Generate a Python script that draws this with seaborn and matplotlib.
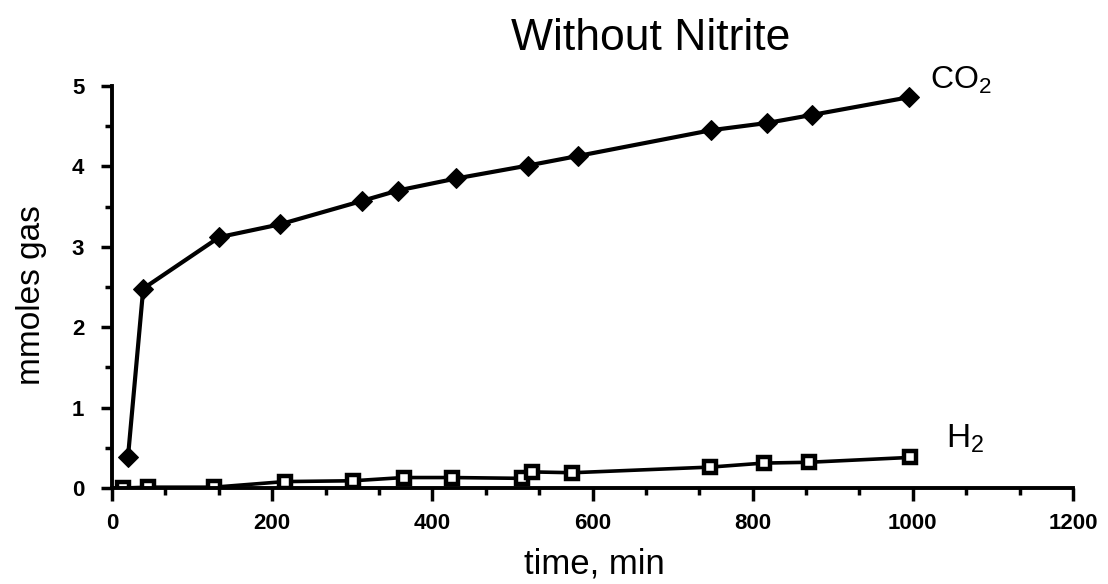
import matplotlib
matplotlib.use('Agg')
import matplotlib.pyplot as plt
import seaborn as sns
from matplotlib.ticker import MultipleLocator

# Dados (tempo em min, mmoles de gás)
co2_tempo = [20, 39, 134, 210, 312, 357, 430, 519, 582, 748, 818, 874, 995]
co2_valor = [0.39, 2.48, 3.12, 3.28, 3.57, 3.70, 3.85, 4.01, 4.13, 4.45, 4.54, 4.64, 4.86]

h2_tempo = [14, 45, 127, 216, 301, 364, 425, 512, 525, 575, 747, 814, 870, 996]
h2_valor = [0.00, 0.01, 0.01, 0.08, 0.09, 0.13, 0.13, 0.12, 0.20, 0.19, 0.26, 0.31, 0.32, 0.38]

x_ticks = [0, 200, 400, 600, 800, 1000, 1200]
y_ticks = [0, 1, 2, 3, 4, 5]

sns.set_style('ticks')
plt.rcParams['font.family'] = ['Liberation Sans', 'DejaVu Sans']
plt.rcParams['mathtext.fontset'] = 'custom'
plt.rcParams['mathtext.rm'] = 'Liberation Sans'
plt.rcParams['text.color'] = 'black'
plt.rcParams['xtick.color'] = 'black'
plt.rcParams['ytick.color'] = 'black'
plt.rcParams['axes.edgecolor'] = 'black'
plt.rcParams['xtick.labelsize'] = 16
plt.rcParams['ytick.labelsize'] = 16

fig = plt.figure(figsize=(11.08, 5.84), dpi=100)
ax = fig.add_axes([112 / 1108, (584 - 488) / 584, (1073 - 112) / 1108, 402 / 584])

# CO2 - losangos pretos
sns.lineplot(x=co2_tempo, y=co2_valor, ax=ax, color='black', linewidth=3,
             marker='D', markersize=10, markerfacecolor='black',
             markeredgecolor='black', sort=False)
# H2 - quadrados abertos
sns.lineplot(x=h2_tempo, y=h2_valor, ax=ax, color='black', linewidth=2.6,
             marker='s', markersize=9, markerfacecolor='white',
             markeredgecolor='black', markeredgewidth=3.2, sort=False)

ax.set_xlim(0, 1200)
ax.set_ylim(0, 5)
ax.set_xticks(x_ticks)
ax.set_yticks(y_ticks)
ax.xaxis.set_minor_locator(MultipleLocator(200 / 3))
ax.yaxis.set_minor_locator(MultipleLocator(0.5))
ax.tick_params(axis='x', which='major', length=9, width=2.5, pad=9, labelsize=16)
ax.tick_params(axis='x', which='minor', length=5, width=2.5)
ax.tick_params(axis='y', which='major', length=8, width=2.5, pad=12, labelsize=16)
ax.tick_params(axis='y', which='minor', length=5, width=2.5)

sns.despine(ax=ax)
for lado in ['left', 'bottom']:
    ax.spines[lado].set_linewidth(2.8)
ax.set_xlabel('')
ax.set_ylabel('')

fig.canvas.draw()
for rotulo in ax.get_xticklabels() + ax.get_yticklabels():
    rotulo.set_fontweight('bold')
    rotulo.set_fontsize(16)

# Textos (título, eixos, rótulos das séries)
fig.text(651 / 1108, 1 - 50 / 584, 'Without Nitrite', fontsize=32,
         ha='center', va='baseline')
fig.text(594 / 1108, 1 - 573 / 584, 'time, min', fontsize=25,
         ha='center', va='baseline')
fig.text(32 / 1108, 1 - 295 / 584, 'mmoles gas', fontsize=24,
         rotation=90, ha='center', va='center')
fig.text(930 / 1108, 1 - 89 / 584, r'CO$_2$', fontsize=23,
         ha='left', va='baseline')
fig.text(946 / 1108, 1 - 447 / 584, r'H$_2$', fontsize=24,
         ha='left', va='baseline')

plt.savefig('out.png', dpi=100)
plt.close()
